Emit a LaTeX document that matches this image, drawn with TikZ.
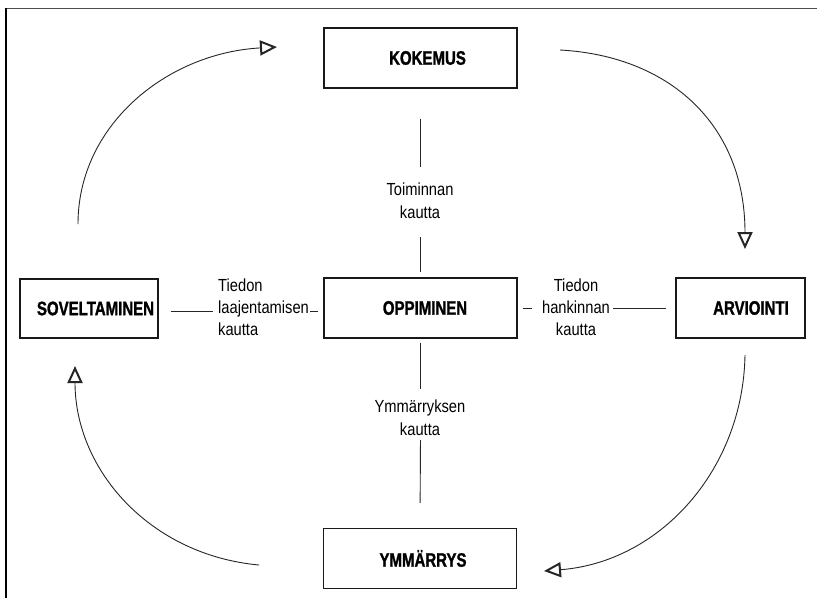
\documentclass[tikz,border=0pt]{standalone}
\usepackage{fontspec}
\setmainfont{Liberation Sans}[FakeStretch=0.84]
\newfontfamily\boxfont{Liberation Sans}[FakeStretch=0.77, BoldFeatures={FakeBold=1.2}]
\usetikzlibrary{arrows.meta}
\begin{document}
\begin{tikzpicture}[x=1pt,y=-1pt,
  box/.style={draw=black!90, line width=1.4pt, minimum width=193pt, minimum height=60pt, inner sep=0pt, font=\boxfont\bfseries\fontsize{19.5}{22}\selectfont},
  lbl/.style={inner sep=0pt, align=center, font=\fontsize{17.5}{23}\selectfont},
  conn/.style={line width=0.9pt, draw=black!85},
  cyc/.style={line width=0.9pt, draw=black!85, -{Triangle[open, length=17pt, width=15pt, line width=2pt]}}
]
\useasboundingbox (0,0) rectangle (817,598);
\fill[white] (0,0) rectangle (817,598);
\draw[line width=1pt, black!70] (6,8) -- (817,8);
\draw[line width=1.8pt, black] (6,598) -- (6,8);

% boxes
\node[box] (kok) at (420.5,58) {\hspace*{14pt}KOKEMUS};
\node[box] (opp) at (420.5,308) {\hspace*{9pt}OPPIMINEN};
\node[box] (ymm) at (420,558.5) {\hspace*{6pt}YMMÄRRYS};
\node[box, minimum width=138pt, minimum height=59pt] (sov) at (89,308.5) {\hspace*{13pt}SOVELTAMINEN};
\node[box, minimum width=129pt] (arv) at (740.5,308) {\hspace*{21pt}ARVIOINTI};

% labels
\node[lbl] (lt) at (420,201) {Toiminnan\\kautta};
\node[lbl] (lb) at (420,418) {Ymmärryksen\\kautta};
\node[lbl, anchor=west, align=left, font=\fontsize{17.5}{22}\selectfont] (ll) at (218,307) {Tiedon\\laajentamisen\\kautta};
\node[lbl, font=\fontsize{17.5}{22}\selectfont] (lr) at (576,307) {Tiedon\\hankinnan\\kautta};

% connectors
\draw[conn, shorten <=30pt, shorten >=16pt] (kok.south) -- (kok.south |- lt.north);
\draw[conn, shorten <=18pt, shorten >=5pt] (kok.south |- lt.south) -- (opp.north);
\draw[conn, shorten <=4pt, shorten >=11pt] (opp.south) -- (opp.south |- lb.north);
\draw[conn, shorten <=4pt, shorten >=25pt] (opp.south |- lb.south) -- (ymm.north);
\draw[conn, shorten <=12pt, shorten >=5pt] ([yshift=-2.5pt]sov.east) -- ([yshift=-2.5pt]sov.east -| ll.west);
\draw[conn, shorten <=1pt, shorten >=5pt] ([yshift=-2.5pt]sov.east -| ll.east) -- ([yshift=-2.5pt]sov.east -| opp.west);
\draw[conn, shorten <=5pt, shorten >=10pt] (opp.east) -- (opp.east -| lr.west);
\draw[conn, shorten <=3pt, shorten >=9pt] (opp.east -| lr.east) -- (arv.west);

% cycle arrows
\coordinate (a1s) at (78,224); \coordinate (a1e) at (277,47);
\coordinate (a2s) at (560,50); \coordinate (a2e) at (745,249);
\coordinate (a3s) at (745,355); \coordinate (a3e) at (544,571);
\coordinate (a4s) at (259,565); \coordinate (a4e) at (75,366);
\draw[cyc] (a1s) .. controls (78,125) and (167,53) .. (a1e);
\draw[cyc] (a2s) .. controls (670,56) and (745,125) .. (a2e);
\draw[cyc] (a3s) .. controls (743,470) and (660,562) .. (a3e);
\draw[cyc] (a4s) .. controls (150,555) and (75,470) .. (a4e);
\end{tikzpicture}
\end{document}
